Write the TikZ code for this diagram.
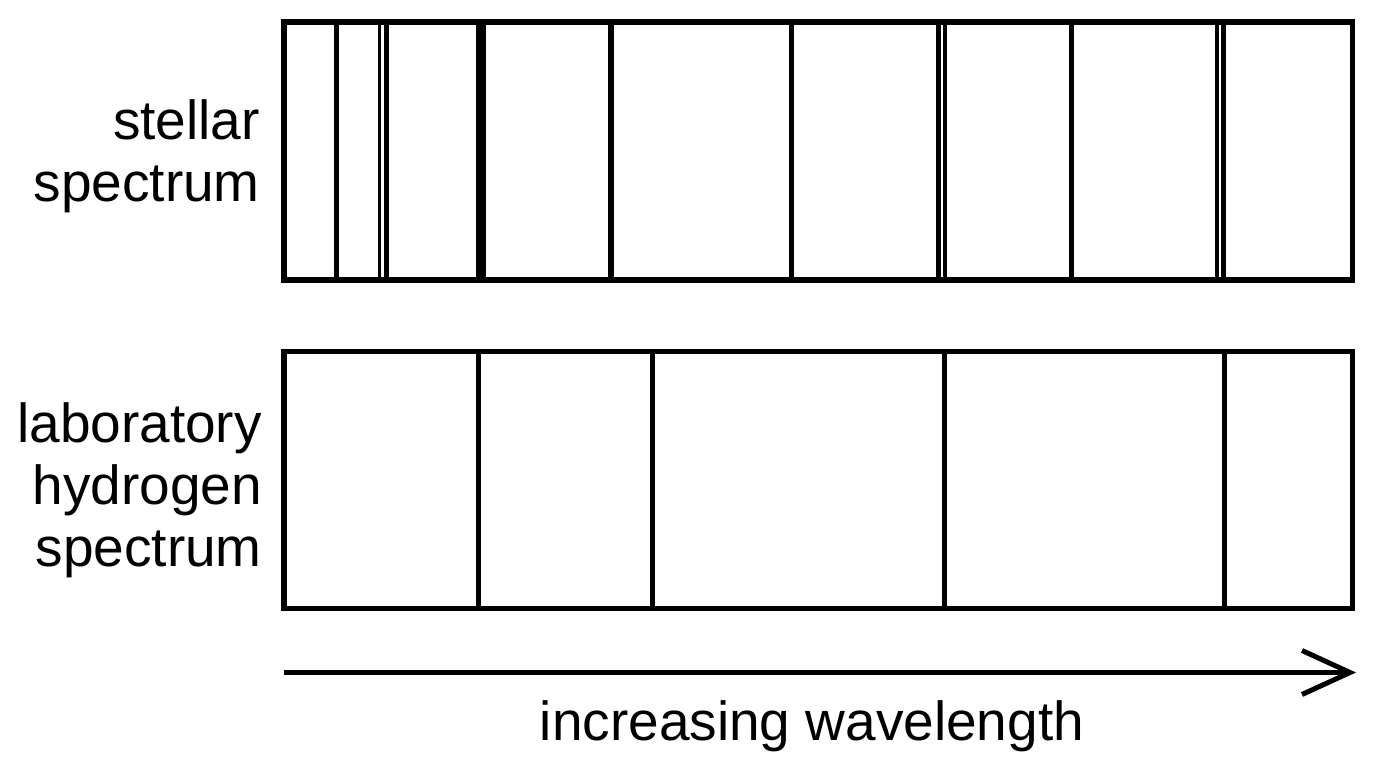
\documentclass[tikz,border=0pt]{standalone}
\usepackage{fontspec}
\setmainfont{Liberation Sans}
\usetikzlibrary{arrows.meta}
\begin{document}
\begin{tikzpicture}[x=1pt,y=-1pt,
  frame/.style={draw=black,line width=5.3pt},
  sline/.style={draw=black,line width=5.3pt},
  lbl/.style={font=\fontsize{55}{62}\selectfont,align=right,inner sep=0pt,anchor=east},
  axis/.style={draw=black,line width=4.3pt,-{Straight Barb[length=48pt,width=44pt,line width=5pt]}}]
\useasboundingbox (0,0) rectangle (1376,768);
% stellar spectrum box
\coordinate (s1) at (284,22);
\coordinate (s2) at (1352.5,280);
\foreach \x/\w in {336.7/5.3, 379.6/3.6, 386.4/5.4, 481/10, 611/5.6, 791.7/5, 938.6/5.6, 945/4.8, 1071.7/5.4, 1217.1/4.6, 1223.5/5.2}
  \draw[sline,line width=\w pt] (\x,22) -- (\x,280);
\draw[frame] (s1) rectangle (s2);
% laboratory spectrum box
\coordinate (l1) at (284,351.3);
\coordinate (l2) at (1352.5,608.7);
\foreach \x in {478.7, 652.5, 944.3, 1224.7}
  \draw[sline] (\x,351.3) -- (\x,608.7);
\draw[frame] (l1) rectangle (l2);
% labels
\node[lbl] (stellar) at (260,156) {stellar\\spectrum};
\node[lbl] (lab) at (262,490) {laboratory\\hydrogen\\spectrum};
% axis
\coordinate (a0) at (284,672.5);
\coordinate (a1) at (1356,672.5);
\draw[axis] (a0) -- (a1);
\node[font=\fontsize{55}{62}\selectfont,inner sep=0pt,anchor=base] (wl) at (812,740) {increasing wavelength};
\end{tikzpicture}
\end{document}
